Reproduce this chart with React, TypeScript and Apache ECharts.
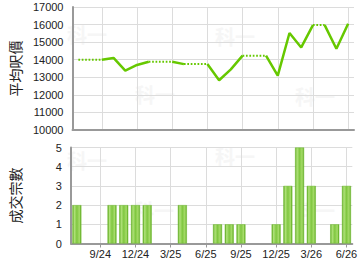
import React, { useEffect, useRef } from 'react';
import * as echarts from 'echarts';

const months = [
  '7/24', '8/24', '9/24', '10/24', '11/24', '12/24',
  '1/25', '2/25', '3/25', '4/25', '5/25', '6/25',
  '7/25', '8/25', '9/25', '10/25', '11/25', '12/25',
  '1/26', '2/26', '3/26', '4/26', '5/26', '6/26',
];
const xTickLabels = ['9/24', '12/24', '3/25', '6/25', '9/25', '12/25', '3/26', '6/26'];
// average price per sq ft; null = no transaction that month
const avgPrice: (number | null)[] = [
  14000, null, null, 14100, 13380, 13700,
  13880, null, null, 13750, null, null,
  12830, 13450, 14230, null, null, 13090,
  15520, 14700, 15970, null, 14620, 16050,
];
const deals = [
  2, 0, 0, 2, 2, 2,
  2, 0, 0, 2, 0, 0,
  1, 1, 1, 0, 0, 1,
  3, 5, 3, 0, 1, 3,
];
const priceAxis = { min: 10000, max: 17000, interval: 1000 };
const dealAxis = { min: 0, max: 5, interval: 1 };

const LINE_COLOR = '#66c800';
const FONT = 'Liberation Sans, Arial, sans-serif';

function buildLineSeries() {
  // carry forward previous value for months without deals
  const filled: number[] = [];
  let last = 0;
  avgPrice.forEach((v) => {
    if (v != null) last = v;
    filled.push(last);
  });
  // segment j -> j+1 is solid if j+1 has a real value, otherwise dotted
  const runs: { type: 'solid' | 'dotted'; start: number; end: number }[] = [];
  for (let j = 0; j < avgPrice.length - 1; j++) {
    const t = avgPrice[j + 1] != null ? 'solid' : 'dotted';
    const prev = runs[runs.length - 1];
    if (prev && prev.type === t && prev.end === j) prev.end = j + 1;
    else runs.push({ type: t, start: j, end: j + 1 });
  }
  return runs.map((r) => ({
    type: 'line' as const,
    xAxisIndex: 0,
    yAxisIndex: 0,
    showSymbol: false,
    symbol: 'none',
    connectNulls: false,
    lineStyle: {
      color: LINE_COLOR,
      width: r.type === 'solid' ? 2.5 : 2,
      type: r.type === 'solid' ? 'solid' : [1.7, 1.7],
      cap: 'butt',
    },
    data: filled.map((v, i) => (i >= r.start && i <= r.end ? v : null)),
  }));
}

const isTick = (_i: number, v: string) => xTickLabels.includes(v);

export default function App() {
  const ref = useRef<HTMLDivElement>(null);
  useEffect(() => {
    if (!ref.current) return;
    const chart = echarts.init(ref.current, undefined, { renderer: 'svg' });
    const gridLeft = 65;
    const gridWidth = 289;
    const xAxisCommon = {
      type: 'category' as const,
      data: months,
      boundaryGap: true,
      axisLine: { show: true, lineStyle: { color: '#999', width: 2 } },
      splitLine: {
        show: true,
        interval: isTick,
        alignWithLabel: true,
        lineStyle: { color: '#dcdcdc', width: 1 },
      },
    };
    const yAxisCommon = {
      type: 'value' as const,
      nameLocation: 'middle' as const,
      nameRotate: 90,
      nameTextStyle: { fontFamily: 'Noto Sans CJK TC', fontSize: 14, color: '#222' },
      axisLine: { show: true, lineStyle: { color: '#999', width: 2 } },
      axisTick: { show: false },
      axisLabel: {
        fontFamily: FONT,
        fontSize: 11,
        color: '#222',
        margin: 9,
        formatter: (v: number) => String(v),
      },
      splitLine: { show: true, lineStyle: { color: '#dcdcdc', width: 1 } },
    };
    const wm = (x: number, y: number) => ({
      type: 'text',
      x,
      y,
      z: -10,
      style: {
        text: '科一',
        fontSize: 20,
        fontWeight: 'bold',
        fontFamily: 'Noto Sans CJK TC',
        fill: '#f6f6f6',
      },
    });
    chart.setOption({
      animation: false,
      backgroundColor: '#fff',
      grid: [
        { left: gridLeft, top: 7, width: gridWidth, height: 123 },
        { left: gridLeft, top: 147.5, width: gridWidth, height: 96 },
      ],
      graphic: [
        wm(67, 24), wm(135, 84), wm(215, 26), wm(295, 86),
        wm(67, 150), wm(134, 200), wm(215, 146), wm(295, 200),
      ],
      xAxis: [
        {
          ...xAxisCommon,
          gridIndex: 0,
          axisTick: { show: false },
          axisLabel: { show: false },
        },
        {
          ...xAxisCommon,
          gridIndex: 1,
          axisTick: {
            show: true,
            interval: isTick,
            alignWithLabel: true,
            length: 4,
            lineStyle: { color: '#999' },
          },
          axisLabel: {
            interval: isTick,
            fontFamily: FONT,
            fontSize: 11,
            color: '#222',
            margin: 5,
          },
        },
      ],
      yAxis: [
        {
          ...yAxisCommon,
          gridIndex: 0,
          name: '平均呎價',
          nameGap: 49,
          min: priceAxis.min,
          max: priceAxis.max,
          interval: priceAxis.interval,
        },
        {
          ...yAxisCommon,
          gridIndex: 1,
          name: '成交宗數',
          nameGap: 49,
          min: dealAxis.min,
          max: dealAxis.max,
          interval: dealAxis.interval,
        },
      ],
      series: [
        ...buildLineSeries(),
        {
          type: 'bar',
          xAxisIndex: 1,
          yAxisIndex: 1,
          barWidth: 9,
          data: deals.map((v) => (v === 0 ? null : v)),
          itemStyle: {
            color: new echarts.graphic.LinearGradient(0, 0, 1, 0, [
              { offset: 0, color: '#5aa81c' },
              { offset: 0.2, color: '#b0e27a' },
              { offset: 0.5, color: '#80c740' },
              { offset: 0.8, color: '#a6dc6a' },
              { offset: 1, color: '#5aa81c' },
            ]),
            borderColor: '#6cb82c',
            borderWidth: 0.5,
          },
        },
      ],
    });
    return () => chart.dispose();
  }, []);
  return (
    <div
      ref={ref}
      style={{ position: 'fixed', left: 0, top: 0, width: 360, height: 270 }}
    />
  );
}
